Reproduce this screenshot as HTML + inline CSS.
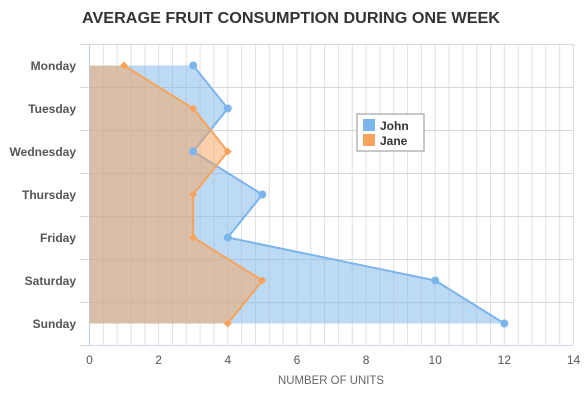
<!DOCTYPE html>
<html><head><meta charset="utf-8"><style>
body{margin:0;background:#fff;font-family:"Liberation Sans",sans-serif}
</style></head><body>
<svg id="chart" width="584" height="400" xmlns="http://www.w3.org/2000/svg">
<text x="291" y="23" text-anchor="middle" font-size="16" font-weight="bold" fill="#333" textLength="418" lengthAdjust="spacingAndGlyphs">AVERAGE FRUIT CONSUMPTION DURING ONE WEEK</text>
<g id="grid"></g><g id="series"></g><g id="labels"></g>
<text x="331" y="384" text-anchor="middle" font-size="12" fill="#666" textLength="106" lengthAdjust="spacingAndGlyphs">NUMBER OF UNITS</text>
<g>
<rect x="357" y="114" width="67" height="37" fill="#fff" stroke="#909090" stroke-width="1"/>
<g><rect x="363" y="119" width="12" height="12" fill="#7cb5ec"/><text x="380" y="130" font-size="12" font-weight="bold" fill="#333">John</text></g>
<g><rect x="363" y="134" width="12" height="12" fill="#f7a35c"/><text x="380" y="145" font-size="12" font-weight="bold" fill="#333">Jane</text></g>
</g>
</svg>
<script>
const categories=["Monday","Tuesday","Wednesday","Thursday","Friday","Saturday","Sunday"];
const john=[3,4,3,5,4,10,12];
const jane=[1,3,4,3,3,5,4];
const NS="http://www.w3.org/2000/svg";
const L=89.5,R=573.5,T=44,B=345,XMAX=14;
const xs=v=>L+(R-L)*v/XMAX;
const band=(B-T)/categories.length;
const ys=i=>T+band*(i+0.5);
function mk(tag,attrs,parent){const e=document.createElementNS(NS,tag);for(const k in attrs)e.setAttribute(k,attrs[k]);parent.appendChild(e);return e;}
const grid=document.getElementById('grid'),ser=document.getElementById('series'),lab=document.getElementById('labels');
for(let v=0;v<=XMAX+1e-9;v+=0.4){const g=mk('line',{x1:xs(v),x2:xs(v),y1:T,y2:B,stroke:'#e0e0e0','stroke-width':1},grid);

}
for(let i=0;i<=categories.length;i++){const y=Math.round(T+band*i)+0.5;const g=mk('line',{x1:L-10,x2:R,y1:y,y2:y,stroke:'#d8d8d8','stroke-width':1},grid);

}
const ax=mk('line',{x1:L,x2:L,y1:T,y2:B,stroke:'#c0d0e0','stroke-width':1},grid);


const bx=mk('line',{x1:L,x2:R,y1:B+0.5,y2:B+0.5,stroke:'#ccd6eb','stroke-width':1},grid);


categories.forEach((c,i)=>{const t=mk('text',{x:76,y:ys(i)+4.5,'text-anchor':'end','font-size':12,fill:'#555','font-weight':'bold'},lab);t.textContent=c;

});
for(let v=0;v<=XMAX;v+=2){const t=mk('text',{x:xs(v),y:364,'text-anchor':'middle','font-size':12,fill:'#555'},lab);t.textContent=v;

}
function drawSeries(vals,color,name,marker){
 let pts=vals.map((v,i)=>xs(v)+','+ys(i));
 const area=mk('polygon',{points:xs(0)+','+ys(0)+' '+pts.join(' ')+' '+xs(0)+','+ys(vals.length-1),fill:color,'fill-opacity':0.5},ser);
 
 
 const line=mk('polyline',{points:pts.join(' '),fill:'none',stroke:color,'stroke-width':2},ser);
 
 
 return ()=>vals.forEach((v,i)=>{let m;
  if(marker==='circle')m=mk('circle',{cx:xs(v),cy:ys(i),r:4,fill:color},ser);
  else{const x=xs(v),y=ys(i);m=mk('polygon',{points:`${x},${y-4} ${x+4},${y} ${x},${y+4} ${x-4},${y}`,fill:color},ser);}
  
  });
}
const m1=drawSeries(john,'#7cb5ec','john','circle');
const m2=drawSeries(jane,'#f7a35c','jane','diamond');
m1();m2();
</script>
</body></html>
